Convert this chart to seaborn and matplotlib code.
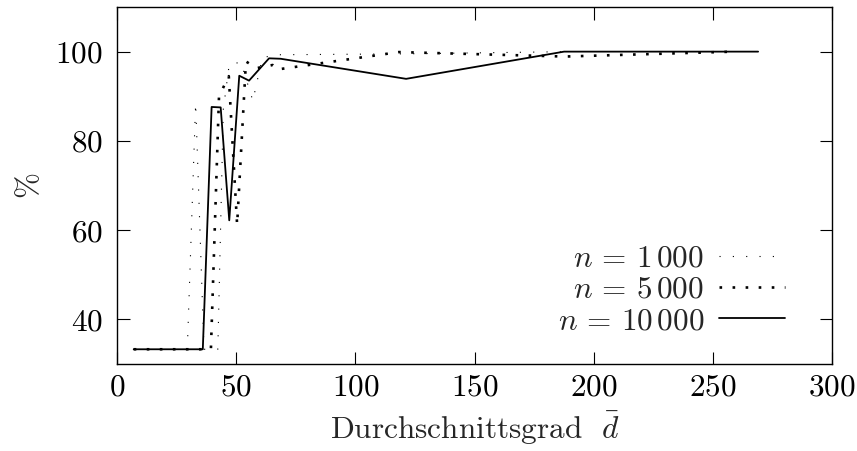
import numpy as np
import pandas as pd
import matplotlib
matplotlib.use("Agg")
import matplotlib.pyplot as plt
import seaborn as sns

# ---- data ----
x_n1000 = [7, 29.5, 33.0, 36.5, 42.3, 44.6, 47.1, 52.0, 57.0, 61.0, 68.0, 120.0, 190.0]
y_n1000 = [33.3, 33.3, 88.5, 33.3, 33.3, 87.0, 97.2, 97.6, 89.0, 98.7, 99.3, 99.5, 100.0]

x_n5000 = [7, 39.4, 42.8, 46.9, 50.4, 54.1, 58.6, 65.3, 67.3, 118.3, 188.0, 259.0]
y_n5000 = [33.3, 33.3, 90.0, 94.5, 61.2, 97.8, 96.3, 97.0, 96.0, 99.9, 98.9, 100.0]

x_n10000 = [7, 36.0, 39.7, 43.5, 47.1, 51.3, 55.4, 63.8, 68.7, 121.3, 187.6, 269.0]
y_n10000 = [33.3, 33.3, 87.6, 87.5, 62.2, 94.6, 93.5, 98.5, 98.4, 93.9, 100.0, 100.0]

labels = [r"$n \,=\, 1\,000$", r"$n \,=\, 5\,000$", r"$n \,=\, 10\,000$"]
x_ticks = [0, 50, 100, 150, 200, 250, 300]
y_ticks = [40, 60, 80, 100]

FS = 22.5

# ---- style ----
sns.set_style("ticks")
plt.rcParams.update({
    "font.family": "serif",
    "font.serif": ["cmr10", "DejaVu Serif"],
    "mathtext.fontset": "cm",
    "axes.formatter.use_mathtext": True,
    "axes.unicode_minus": False,
    "font.size": FS,
    "lines.scale_dashes": False,
    "axes.edgecolor": "black",
    "axes.linewidth": 1.0,
    "xtick.color": "black",
    "ytick.color": "black",
    "xtick.direction": "in",
    "ytick.direction": "in",
})

fig = plt.figure(figsize=(8.57, 4.51), dpi=100)
ax = fig.add_axes([117 / 857, 1 - 364 / 451, (832 - 117) / 857, (364 - 7) / 451])

frames = []
for xs, ys, lab in [(x_n1000, y_n1000, labels[0]),
                    (x_n5000, y_n5000, labels[1]),
                    (x_n10000, y_n10000, labels[2])]:
    frames.append(pd.DataFrame({"d": xs, "pct": ys, "series": lab}))
df = pd.concat(frames, ignore_index=True)

styles = {
    labels[0]: dict(lw=0.8, ls=(0, (0.8, 8.8))),
    labels[1]: dict(lw=1.9, ls=(0, (1.9, 7.5))),
    labels[2]: dict(lw=1.3, ls="-"),
}
for lab in labels:
    sub = df[df["series"] == lab]
    sns.lineplot(data=sub, x="d", y="pct", ax=ax, color="black",
                 sort=False, estimator=None, label=lab,
                 linewidth=styles[lab]["lw"])
    line = ax.lines[-1]
    line.set_linestyle(styles[lab]["ls"])
    line.set_dash_capstyle("butt")

ax.set_xlim(0, 300)
ax.set_ylim(30, 110)
ax.set_xticks(x_ticks)
ax.set_yticks(y_ticks)
ax.tick_params(axis="both", which="major", direction="in", length=9, width=0.8,
               top=True, right=True, labelsize=FS)
ax.tick_params(axis="x", pad=7)
ax.tick_params(axis="y", pad=10)
for sp in ax.spines.values():
    sp.set_visible(True)
    sp.set_linewidth(1.0)

ax.set_xlabel(r"Durchschnittsgrad $\ \bar{d}$", fontsize=FS, labelpad=5)
ax.set_ylabel(r"$\%$", fontsize=FS, labelpad=8)

leg = ax.legend(loc="lower right", bbox_to_anchor=((785 - 117) / 715, (364 - 335) / 357),
                frameon=False, markerfirst=False, fontsize=FS,
                handlelength=2.1, handletextpad=0.48, labelspacing=0.1,
                borderpad=0, borderaxespad=0)
for h in leg.get_lines():
    h.set_dash_capstyle("butt")

fig.savefig("out.png", dpi=100)
